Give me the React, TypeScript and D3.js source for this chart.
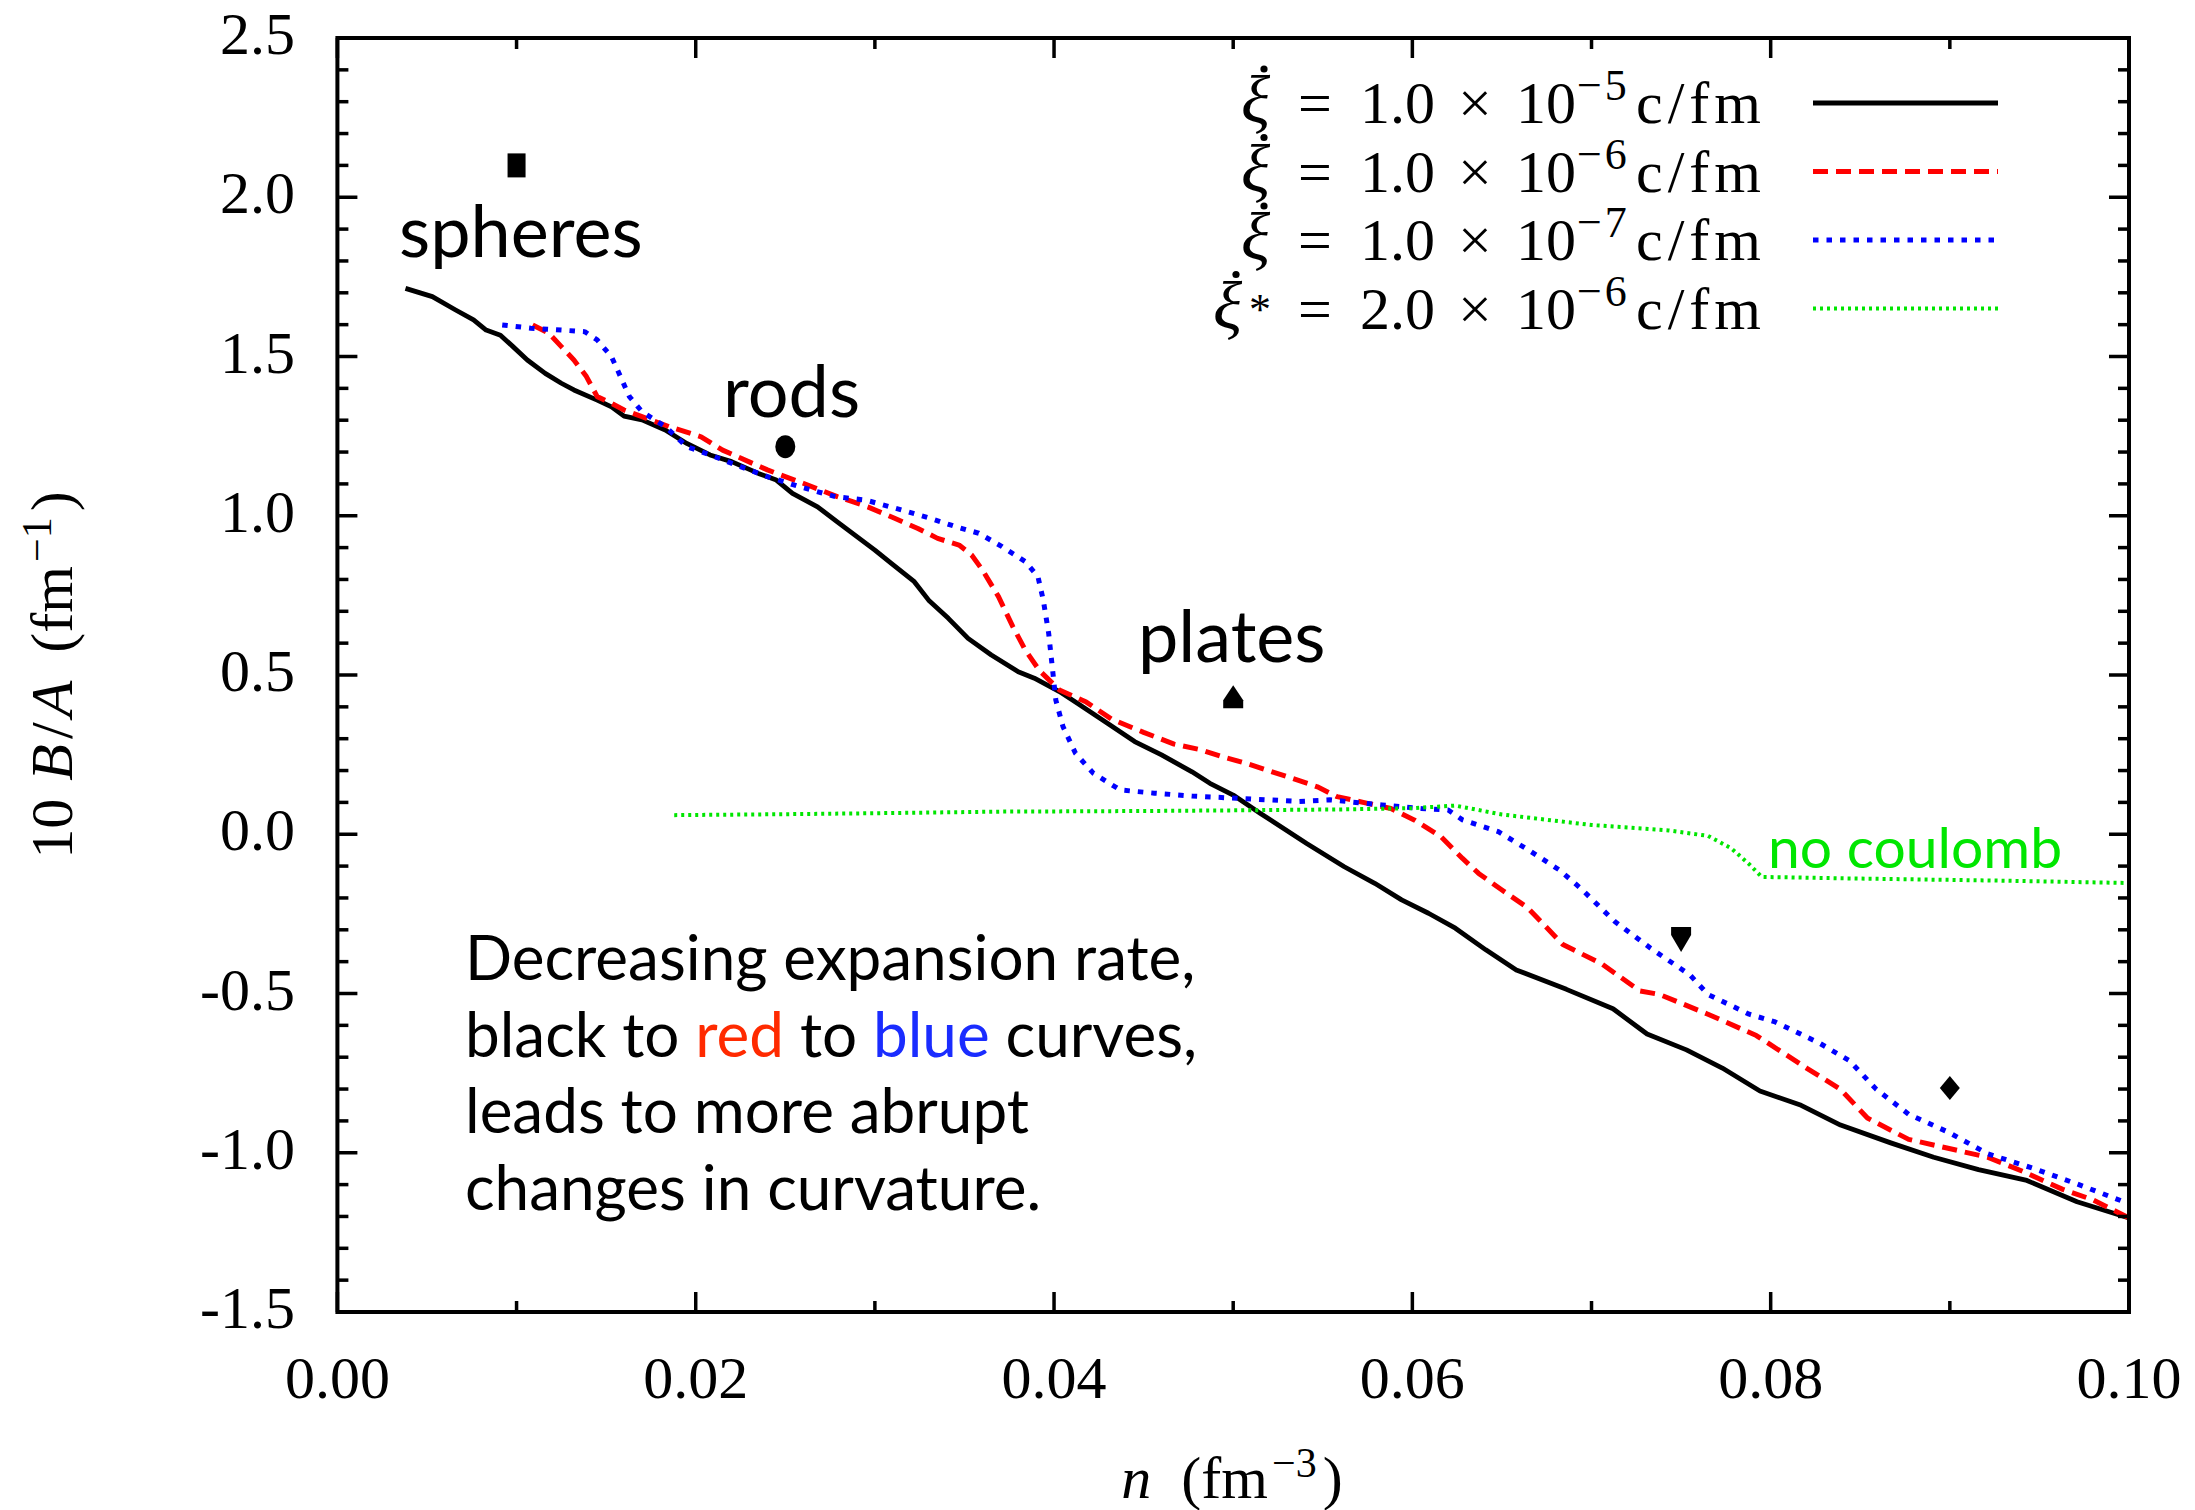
import React from 'react';
import * as d3 from 'd3';

// ---------- data ----------
const blackSeries: [number, number][] = [
  [0.0038, 1.714], [0.0053, 1.688], [0.0066, 1.646], [0.0076, 1.615], [0.0083, 1.583], [0.0091, 1.567],
  [0.0098, 1.531], [0.0106, 1.489], [0.0116, 1.447], [0.0125, 1.416], [0.0132, 1.395], [0.0145, 1.363],
  [0.0153, 1.342], [0.016, 1.313], [0.017, 1.301], [0.0183, 1.269], [0.0195, 1.227], [0.0208, 1.191],
  [0.022, 1.17], [0.0235, 1.133], [0.0245, 1.112], [0.0254, 1.07], [0.0268, 1.028], [0.0279, 0.981],
  [0.03, 0.892], [0.0309, 0.851], [0.0322, 0.793], [0.033, 0.735], [0.0341, 0.678], [0.0352, 0.615],
  [0.0365, 0.563], [0.038, 0.51], [0.0389, 0.49], [0.0403, 0.448], [0.0413, 0.411], [0.043, 0.348],
  [0.0445, 0.291], [0.046, 0.249], [0.0477, 0.196], [0.0487, 0.16], [0.05, 0.123], [0.0515, 0.066],
  [0.0541, -0.029], [0.0562, -0.102], [0.0579, -0.154], [0.0594, -0.206], [0.0609, -0.248], [0.0624, -0.295],
  [0.0641, -0.363], [0.0658, -0.426], [0.0686, -0.487], [0.0712, -0.548], [0.0731, -0.627], [0.0753, -0.677],
  [0.0773, -0.734], [0.0794, -0.806], [0.0817, -0.851], [0.0839, -0.913], [0.0867, -0.969], [0.0891, -1.014],
  [0.0916, -1.053], [0.0943, -1.087], [0.0971, -1.154], [0.1, -1.205],
];

const redSeries: [number, number][] = [
  [0.0109, 1.599], [0.0118, 1.573], [0.0125, 1.531], [0.0132, 1.489], [0.0139, 1.437], [0.0145, 1.374],
  [0.0153, 1.353], [0.016, 1.332], [0.017, 1.311], [0.0185, 1.28], [0.0203, 1.248], [0.0215, 1.206],
  [0.024, 1.144], [0.026, 1.102], [0.0279, 1.06], [0.0296, 1.028], [0.0311, 0.992], [0.0324, 0.96],
  [0.0335, 0.929], [0.0347, 0.908], [0.0354, 0.877], [0.036, 0.83], [0.0369, 0.746], [0.0377, 0.652],
  [0.0384, 0.578], [0.0392, 0.513], [0.0403, 0.453], [0.0418, 0.415], [0.0432, 0.362], [0.045, 0.32],
  [0.0467, 0.283], [0.0482, 0.265], [0.0494, 0.243], [0.0507, 0.223], [0.053, 0.181], [0.0547, 0.149],
  [0.0558, 0.118], [0.0575, 0.097], [0.0588, 0.081], [0.0601, 0.045], [0.0616, -0.008], [0.0628, -0.076],
  [0.0637, -0.123], [0.065, -0.175], [0.0664, -0.229], [0.0684, -0.346], [0.0706, -0.408], [0.0727, -0.492],
  [0.0738, -0.503], [0.0765, -0.565], [0.0792, -0.632], [0.082, -0.734], [0.0839, -0.801], [0.0854, -0.891],
  [0.0877, -0.958], [0.0899, -0.986], [0.0921, -1.014], [0.0941, -1.059], [0.0963, -1.115], [0.098, -1.148],
  [0.1, -1.205],
];

const blueSeries: [number, number][] = [
  [0.0092, 1.599], [0.0108, 1.589], [0.0125, 1.583], [0.0138, 1.578], [0.0145, 1.552], [0.0153, 1.499],
  [0.0158, 1.437], [0.0163, 1.374], [0.017, 1.327], [0.0183, 1.28], [0.0195, 1.217], [0.0208, 1.191],
  [0.0225, 1.154], [0.024, 1.123], [0.0258, 1.091], [0.0278, 1.06], [0.0295, 1.049], [0.0315, 1.018],
  [0.0332, 0.99], [0.0345, 0.966], [0.0358, 0.945], [0.0371, 0.903], [0.0384, 0.856], [0.0391, 0.809],
  [0.0394, 0.735], [0.0397, 0.631], [0.0399, 0.526], [0.0401, 0.421], [0.0405, 0.338], [0.0412, 0.254],
  [0.0422, 0.191], [0.0437, 0.139], [0.0456, 0.129], [0.0477, 0.12], [0.0502, 0.113], [0.0537, 0.103],
  [0.0554, 0.108], [0.0583, 0.092], [0.0605, 0.081], [0.062, 0.076], [0.0628, 0.045], [0.0648, 0.008],
  [0.0665, -0.05], [0.0682, -0.112], [0.0694, -0.17], [0.0713, -0.274], [0.0733, -0.358], [0.0755, -0.442],
  [0.0765, -0.503], [0.0788, -0.565], [0.0802, -0.588], [0.0827, -0.655], [0.0844, -0.711], [0.0859, -0.801],
  [0.0877, -0.879], [0.0899, -0.935], [0.0921, -1.003], [0.0946, -1.048], [0.0971, -1.098], [0.1, -1.16],
];

const greenSeries: [number, number][] = [
  [0.0188, 0.06], [0.025, 0.063], [0.03, 0.066], [0.037, 0.071], [0.045, 0.073], [0.05, 0.075],
  [0.056, 0.078], [0.06, 0.082], [0.0624, 0.09], [0.065, 0.062], [0.07, 0.029], [0.0743, 0.012],
  [0.0765, -0.005], [0.0778, -0.044], [0.0788, -0.094], [0.0795, -0.134], [0.0847, -0.139],
  [0.0921, -0.145], [0.1, -0.153],
];

const seriesColors = ['#000000', '#ff0000', '#0000ff', '#00e600'];
const legendSymbol = ['ξ', 'ξ', 'ξ', 'ξ'];
const legendStar = [false, false, false, true];
const legendMantissa = ['1.0', '1.0', '1.0', '2.0'];
const legendExponent = ['−5', '−6', '−7', '−6'];

const markerShapes = ['square', 'circle', 'triUp', 'triDown', 'diamond'];
const markerN = [0.01, 0.025, 0.05, 0.075, 0.09];
const markerV = [2.1, 1.217, 0.43, -0.329, -0.797];

const xMajorTicks = [0, 0.02, 0.04, 0.06, 0.08, 0.1];
const xTickLabels = ['0.00', '0.02', '0.04', '0.06', '0.08', '0.10'];
const xMinorTicks = [0.01, 0.03, 0.05, 0.07, 0.09];
const yMajorTicks = [-1.5, -1, -0.5, 0, 0.5, 1, 1.5, 2, 2.5];
const yTickLabels = ['-1.5', '-1.0', '-0.5', '0.0', '0.5', '1.0', '1.5', '2.0', '2.5'];
const yMinorTicks = d3.range(-14, 25).map((k) => k / 10).filter((v) => Math.abs(v * 2 - Math.round(v * 2)) > 1e-6);

const paragraphLines = [
  [{ t: 'Decreasing expansion rate,', c: '#000' }],
  [{ t: 'black to ', c: '#000' }, { t: 'red', c: '#ff2a00' }, { t: ' to ', c: '#000' }, { t: 'blue', c: '#1a2cff' }, { t: ' curves,', c: '#000' }],
  [{ t: 'leads to more abrupt', c: '#000' }],
  [{ t: 'changes in curvature.', c: '#000' }],
];

// ---------- layout ----------
const W = 2195;
const H = 1510;
const L = 337.4, R = 2129, T = 38, B = 1312;
const serif = '"Liberation Serif", "Times New Roman", serif';
const sans = 'Lato, "Open Sans", sans-serif';

export default function App() {
  const x = d3.scaleLinear().domain([0, 0.1]).range([L, R]);
  const y = d3.scaleLinear().domain([-1.5, 2.5]).range([B, T]);
  const line = d3.line<[number, number]>().x((d) => x(d[0])).y((d) => y(d[1])).curve(d3.curveLinear);

  const series = [blackSeries, redSeries, blueSeries, greenSeries];
  const styles = [
    { w: 4.8, dash: undefined as string | undefined },
    { w: 5, dash: '15 8' },
    { w: 5, dash: '5.5 8' },
    { w: 4, dash: '3 4' },
  ];

  const majLen = 20, minLen = 11, tickW = 3.5;
  const fs = 60;
  const sup = 44;

  const marker = (shape: string, cx: number, cy: number, i: number) => {
    switch (shape) {
      case 'square':
        return <rect key={i} x={cx - 9} y={cy - 12} width={18} height={24} fill="#000" />;
      case 'circle':
        return <ellipse key={i} cx={cx} cy={cy} rx={10} ry={11.5} fill="#000" />;
      case 'triUp':
        return <path key={i} d={`M${cx},${cy - 12} L${cx + 10},${cy + 3} L${cx + 10},${cy + 11} L${cx - 10},${cy + 11} L${cx - 10},${cy + 3} Z`} fill="#000" />;
      case 'triDown':
        return <path key={i} d={`M${cx - 10},${cy - 12} L${cx + 10},${cy - 12} L${cx + 10},${cy - 4} L${cx},${cy + 13} L${cx - 10},${cy - 4} Z`} fill="#000" />;
      default:
        return <path key={i} d={`M${cx},${cy - 12} L${cx + 10},${cy} L${cx},${cy + 12} L${cx - 10},${cy} Z`} fill="#000" />;
    }
  };

  return (
    <svg width={W} height={H} style={{ position: 'absolute', left: 0, top: 0, display: 'block', background: '#fff' }}>
      <rect x={0} y={0} width={W} height={H} fill="#fff" />

      {/* curves */}
      {series.map((s, i) => (
        <path key={i} d={line(s) || ''} fill="none" stroke={seriesColors[i]} strokeWidth={styles[i].w}
          strokeDasharray={styles[i].dash} strokeLinejoin="round" />
      ))}

      {/* markers */}
      {markerShapes.map((sh, i) => marker(sh, x(markerN[i]), y(markerV[i]), i))}

      {/* ticks */}
      {xMajorTicks.map((t, i) => (
        <g key={'xm' + i}>
          <line x1={x(t)} x2={x(t)} y1={B} y2={B - majLen} stroke="#000" strokeWidth={tickW} />
          <line x1={x(t)} x2={x(t)} y1={T} y2={T + majLen} stroke="#000" strokeWidth={tickW} />
          <text x={x(t)} y={1398} textAnchor="middle" fontFamily={serif} fontSize={fs}>{xTickLabels[i]}</text>
        </g>
      ))}
      {xMinorTicks.map((t, i) => (
        <g key={'xn' + i}>
          <line x1={x(t)} x2={x(t)} y1={B} y2={B - minLen} stroke="#000" strokeWidth={tickW} />
          <line x1={x(t)} x2={x(t)} y1={T} y2={T + minLen} stroke="#000" strokeWidth={tickW} />
        </g>
      ))}
      {yMajorTicks.map((t, i) => (
        <g key={'ym' + i}>
          <line x1={L} x2={L + majLen} y1={y(t)} y2={y(t)} stroke="#000" strokeWidth={tickW} />
          <line x1={R} x2={R - majLen} y1={y(t)} y2={y(t)} stroke="#000" strokeWidth={tickW} />
          <text x={295} y={y(t) + 16} textAnchor="end" fontFamily={serif} fontSize={fs}>{yTickLabels[i]}</text>
        </g>
      ))}
      {yMinorTicks.map((t, i) => (
        <g key={'yn' + i}>
          <line x1={L} x2={L + minLen} y1={y(t)} y2={y(t)} stroke="#000" strokeWidth={tickW} />
          <line x1={R} x2={R - minLen} y1={y(t)} y2={y(t)} stroke="#000" strokeWidth={tickW} />
        </g>
      ))}

      {/* frame */}
      <rect x={L} y={T} width={R - L} height={B - T} fill="none" stroke="#000" strokeWidth={4} />

      {/* legend */}
      {seriesColors.map((c, i) => {
        const base = 123 + i * 68.5;
        const xiX = legendStar[i] ? 1213 : 1241;
        return (
          <g key={'lg' + i}>
            <text y={base} fontFamily={serif} fontSize={fs}>
              <tspan x={xiX} fontStyle="italic" fontSize={68}>{legendSymbol[i]}</tspan>
              {legendStar[i] ? <tspan x={1249} y={base - 5} fontSize={sup}>*</tspan> : null}
              <tspan x={1298} y={base}>=</tspan>
              <tspan x={1360}>{legendMantissa[i]}</tspan>
              <tspan x={1458}>×</tspan>
              <tspan x={1516}>10</tspan>
              <tspan x={1577} y={base - 23} fontSize={sup} letterSpacing={3}>{legendExponent[i]}</tspan>
              <tspan x={1636} y={base} letterSpacing={5}>c/fm</tspan>
            </text>
            <circle cx={xiX + 23} cy={base - 54} r={3.6} fill="#000" />
            <line x1={1813} x2={1998} y1={base - 20} y2={base - 20} stroke={c} strokeWidth={styles[i].w}
              strokeDasharray={styles[i].dash} />
          </g>
        );
      })}

      {/* axis labels */}
      <text x={1232} y={1498} textAnchor="middle" fontFamily={serif} fontSize={fs}>
        <tspan fontStyle="italic">n</tspan>
        <tspan dx={30}>(fm</tspan>
        <tspan dx={4} dy={-21} fontSize={42}>−3</tspan>
        <tspan dx={6} dy={21}>)</tspan>
      </text>
      <text transform="translate(72,675) rotate(-90)" x={0} y={0} textAnchor="middle" fontFamily={serif} fontSize={fs}>
        <tspan>10</tspan>
        <tspan dx={18} fontStyle="italic">B</tspan>
        <tspan dx={5}>/</tspan>
        <tspan dx={5} fontStyle="italic">A</tspan>
        <tspan dx={28}>(fm</tspan>
        <tspan dx={4} dy={-21} fontSize={42}>−1</tspan>
        <tspan dx={6} dy={21}>)</tspan>
      </text>

      {/* annotations */}
      <text x={399} y={257} fontFamily={sans} fontSize={72} fill="#000">spheres</text>
      <text x={723} y={417} fontFamily={sans} fontSize={72} fill="#000">rods</text>
      <text x={1138} y={662} fontFamily={sans} fontSize={72} fill="#000">plates</text>
      <text x={1768} y={868} fontFamily={sans} fontSize={57} fill="#00e600">no coulomb</text>
      {paragraphLines.map((ln, i) => (
        <text key={'p' + i} x={465} y={980 + i * 76.7} fontFamily={sans} fontSize={62} style={{ whiteSpace: 'pre' }}>
          {ln.map((seg, j) => (
            <tspan key={j} fill={seg.c}>{seg.t}</tspan>
          ))}
        </text>
      ))}
    </svg>
  );
}
